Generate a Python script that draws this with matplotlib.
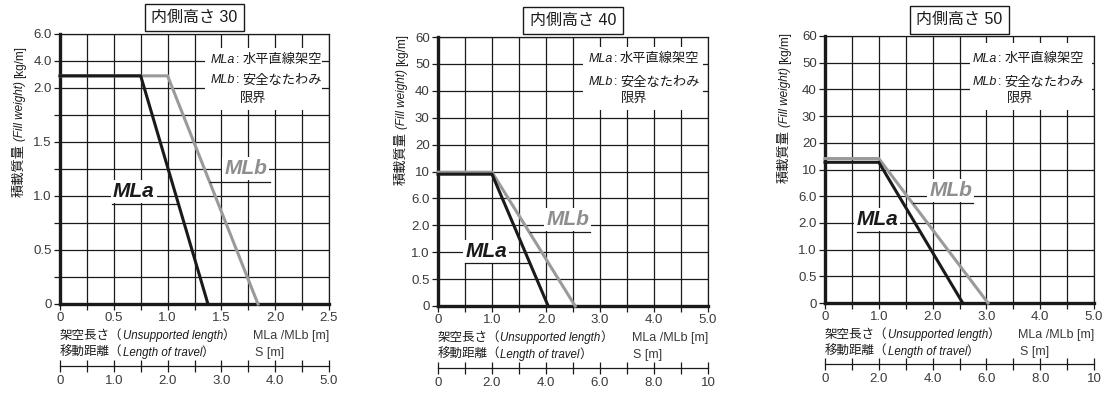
import numpy as np
import matplotlib
matplotlib.use("Agg")
import matplotlib.pyplot as plt
from matplotlib.patches import Rectangle

plt.rcParams["font.family"] = ["Liberation Sans", "Noto Sans CJK JP"]

LATIN = "Liberation Sans"
CJK = "Noto Sans CJK JP"
BOTH = [LATIN, CJK]
INK = "#1a1a1a"
GRAY_LINE = "#9a9a9a"
TICK_TXT = "#3a3a3a"

# ---- DATA ----
titles = ["内側高さ 30", "内側高さ 40", "内側高さ 50"]

# y grid levels: equally spaced on the chart, not to scale
y_levels_30 = [0, 0.25, 0.5, 0.75, 1.0, 1.25, 1.5, 1.75, 2.0, 4.0, 6.0]
y_labels_30 = ["0", "", "0.5", "", "1.0", "", "1.5", "", "2.0", "4.0", "6.0"]
y_levels_4050 = [0, 0.5, 1.0, 2.0, 6.0, 10, 20, 30, 40, 50, 60]
y_labels_4050 = ["0", "0.5", "1.0", "2.0", "6.0", "10", "20", "30", "40", "50", "60"]

x_labels_30 = ["0", "0.5", "1.0", "1.5", "2.0", "2.5"]
x_labels_4050 = ["0", "1.0", "2.0", "3.0", "4.0", "5.0"]
s_labels_30 = ["0", "1.0", "2.0", "3.0", "4.0", "5.0"]
s_labels_4050 = ["0", "2.0", "4.0", "6.0", "8.0", "10"]

# unsupported length [m] vs fill weight [kg/m]
mla_x_30 = [0, 0.75, 1.375]
mla_y_30 = [2.9, 2.9, 0]
mlb_x_30 = [0, 1.0, 1.84]
mlb_y_30 = [2.9, 2.9, 0]

mla_x_40 = [0, 1.0, 2.04]
mla_y_40 = [9.6, 9.6, 0]
mlb_x_40 = [0, 1.0, 2.54]
mlb_y_40 = [9.9, 9.9, 0]

mla_x_50 = [0, 1.0, 2.56]
mla_y_50 = [12.7, 12.7, 0]
mlb_x_50 = [0, 1.0, 3.03]
mlb_y_50 = [14.1, 14.1, 0]

panels = [
    dict(title=titles[0], levels=y_levels_30, ylabels=y_labels_30, xmax=2.5,
         xlabels=x_labels_30, slabels=s_labels_30,
         mla=(mla_x_30, mla_y_30), mlb=(mlb_x_30, mlb_y_30),
         rect=[60, 34, 269, 270], ylab=(-0.1375, 0.396),
         mla_txt=(0.275, 0.417), mla_ul=(0.193, 0.435, 0.37),
         mlb_txt=(0.691, 0.502), mlb_ul=(0.558, 0.781, 0.452),
         box=(0.539, 0.719, 0.435, 0.229), leg=(0.561, 0.911, 0.837, 0.767, 0.669)),
    dict(title=titles[1], levels=y_levels_4050, ylabels=y_labels_4050, xmax=5.0,
         xlabels=x_labels_4050, slabels=s_labels_4050,
         mla=(mla_x_40, mla_y_40), mlb=(mlb_x_40, mlb_y_40),
         rect=[438, 37, 270, 269], ylab=(-0.122, 0.45),
         mla_txt=(0.178, 0.203), mla_ul=(0.1, 0.341, 0.16),
         mlb_txt=(0.48, 0.323), mlb_ul=(0.341, 0.563, 0.275),
         box=(0.537, 0.729, 0.444, 0.234), leg=(0.556, 0.926, 0.84, 0.777, 0.678)),
    dict(title=titles[2], levels=y_levels_4050, ylabels=y_labels_4050, xmax=5.0,
         xlabels=x_labels_4050, slabels=s_labels_4050,
         mla=(mla_x_50, mla_y_50), mlb=(mlb_x_50, mlb_y_50),
         rect=[825, 36, 269, 267], ylab=(-0.1375, 0.45),
         mla_txt=(0.195, 0.313), mla_ul=(0.119, 0.346, 0.266),
         mlb_txt=(0.468, 0.42), mlb_ul=(0.327, 0.55, 0.375),
         box=(0.539, 0.723, 0.454, 0.251), leg=(0.55, 0.921, 0.835, 0.772, 0.677)),
]

W, H = 1109, 398
fig = plt.figure(figsize=(W / 100, H / 100), dpi=100)
renderer = fig.canvas.get_renderer()


def chained_text(ax, x, y, parts, rotation=0):
    # draws mixed-font pieces one after another, starting at (x, y) in axes coords
    # each part: (text, family, style, size, gap in px before it)
    px, py = ax.transAxes.transform((x, y))
    for s, family, style, size, gap in parts:
        if rotation == 90:
            py += gap
        else:
            px += gap
        t = fig.text(px / W, py / H, s, family=family, style=style, fontsize=size,
                     color=INK, rotation=rotation, rotation_mode="anchor",
                     ha="left", va="baseline")
        bb = t.get_window_extent(renderer)
        if rotation == 90:
            py = bb.y1
        else:
            px = bb.x1


for p in panels:
    l, t, w, h = p["rect"]
    ax = fig.add_axes([l / W, (H - t - h) / H, w / W, h / H])
    levels = p["levels"]
    idx = np.arange(len(levels))

    def fwd(v, levels=levels, idx=idx):
        return np.interp(v, levels, idx)

    def inv(v, levels=levels, idx=idx):
        return np.interp(v, idx, levels)

    ax.set_yscale("function", functions=(fwd, inv))
    ax.set_ylim(levels[0], levels[-1])
    ax.set_xlim(0, p["xmax"])
    ax.set_axisbelow(True)

    ax.set_yticks(levels)
    ax.set_yticklabels(p["ylabels"])
    ax.yaxis.set_minor_locator(matplotlib.ticker.NullLocator())
    xt = np.linspace(0, p["xmax"], 11)
    ax.set_xticks(xt)
    ax.set_xticklabels([p["xlabels"][i // 2] if i % 2 == 0 else "" for i in range(11)])
    ax.grid(True, color=INK, lw=0.9)
    ax.tick_params(axis="both", direction="out", length=4, width=0.9, color=INK,
                   labelsize=9.5, labelcolor=TICK_TXT, pad=2)
    for side in ["left", "bottom"]:
        ax.spines[side].set_linewidth(2.4)
        ax.spines[side].set_color(INK)
    for side in ["top", "right"]:
        ax.spines[side].set_linewidth(0.9)
        ax.spines[side].set_color(INK)

    # curves
    ax.plot(p["mlb"][0], p["mlb"][1], color=GRAY_LINE, lw=2.2, zorder=3,
            solid_joinstyle="miter", clip_on=False)
    ax.plot(p["mla"][0], p["mla"][1], color=INK, lw=2.2, zorder=4,
            solid_joinstyle="miter", clip_on=False)

    # curve labels
    ax.text(*p["mla_txt"], "MLa", transform=ax.transAxes, ha="center", va="center",
            family=LATIN, style="italic", weight="bold", fontsize=15, color=INK,
            bbox=dict(facecolor="white", edgecolor="none", pad=1.5), zorder=5)
    ax.text(*p["mlb_txt"], "MLb", transform=ax.transAxes, ha="center", va="center",
            family=LATIN, style="italic", weight="bold", fontsize=15, color="#8e8e8e",
            bbox=dict(facecolor="white", edgecolor="none", pad=1.5), zorder=5)
    x0, x1, yy = p["mla_ul"]
    ax.plot([x0, x1], [yy, yy], transform=ax.transAxes, color=INK, lw=0.9, zorder=5)
    x0, x1, yy = p["mlb_ul"]
    ax.plot([x0, x1], [yy, yy], transform=ax.transAxes, color=INK, lw=0.9, zorder=5)

    # legend box
    bx, by, bw, bh = p["box"]
    ax.add_patch(Rectangle((bx, by), bw, bh, transform=ax.transAxes,
                           facecolor="white", edgecolor="none", zorder=1))
    lx, r1, r2, r3, lx2 = p["leg"]
    chained_text(ax, lx, r1 - 0.02, [("MLa", LATIN, "italic", 9, 0),
                                     (":", LATIN, "normal", 9, 1),
                                     ("水平直線架空", CJK, "normal", 9.5, 3)])
    chained_text(ax, lx, r2 - 0.02, [("MLb", LATIN, "italic", 9, 0),
                                     (":", LATIN, "normal", 9, 1),
                                     ("安全なたわみ", CJK, "normal", 9.5, 3)])
    chained_text(ax, lx2, r3 - 0.02, [("限界", CJK, "normal", 9.5, 0)])

    # title box
    ax.text(0.5, 1.061, p["title"], transform=ax.transAxes, ha="center", va="center",
            family=BOTH, fontsize=11.5, color=INK,
            bbox=dict(boxstyle="square,pad=0.4", facecolor="white", edgecolor=INK, lw=1))

    # y label
    chained_text(ax, *p["ylab"], [("積載質量", CJK, "normal", 9.5, 0),
                                  ("(Fill weight)", LATIN, "italic", 8.5, 3),
                                  ("[kg/m]", LATIN, "normal", 8.5, 3)], rotation=90)

    # x labels
    chained_text(ax, 0.0, -0.13, [("架空長さ（", CJK, "normal", 9, 0),
                                  ("Unsupported length", LATIN, "italic", 8.3, 0),
                                  ("）", CJK, "normal", 9, 0)])
    chained_text(ax, 0.0, -0.193, [("移動距離（", CJK, "normal", 9, 0),
                                   ("Length of travel", LATIN, "italic", 8.3, 0),
                                   ("）", CJK, "normal", 9, 0)])
    ax.text(1.0, -0.13, "MLa /MLb [m]", transform=ax.transAxes, ha="right",
            va="baseline", family=LATIN, fontsize=9, color=TICK_TXT)
    ax.text(0.724, -0.193, "S [m]", transform=ax.transAxes, ha="left",
            va="baseline", family=LATIN, fontsize=9, color=TICK_TXT)

    # travel length axis, S = 2 x MLa/MLb
    sec = ax.secondary_xaxis(-0.23, functions=(lambda x: 2 * x, lambda s: s / 2))
    st = np.linspace(0, 2 * p["xmax"], 11)
    sec.set_xticks(st)
    sec.set_xticklabels([p["slabels"][i // 2] if i % 2 == 0 else "" for i in range(11)])
    sec.tick_params(direction="inout", length=8, width=0.9, color=INK,
                    labelsize=9.5, labelcolor=TICK_TXT, pad=2.5)
    sec.spines["bottom"].set_linewidth(0.9)
    sec.spines["bottom"].set_color(INK)

fig.savefig("out.png", dpi=100)
